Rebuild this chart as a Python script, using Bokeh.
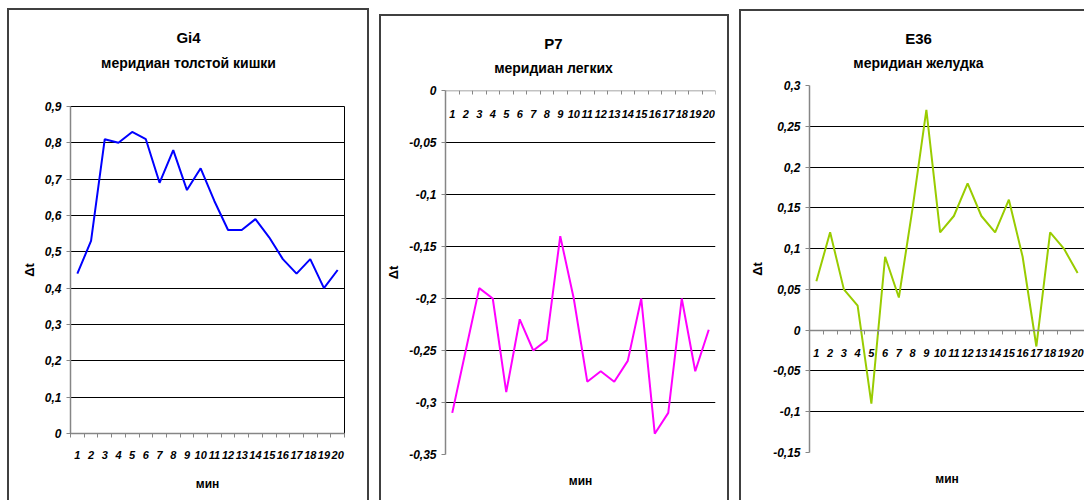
from bokeh.plotting import figure
from bokeh.models import Range1d, FixedTicker, CustomJSTickFormatter, Label
from bokeh.embed import file_html
from bokeh.resources import INLINE

# minutes of measurement
minutes = [1, 2, 3, 4, 5, 6, 7, 8, 9, 10, 11, 12, 13, 14, 15, 16, 17, 18, 19, 20]

# temperature difference per meridian point
gi4 = [0.44, 0.53, 0.81, 0.80, 0.83, 0.81, 0.69, 0.78, 0.67, 0.73,
       0.64, 0.56, 0.56, 0.59, 0.54, 0.48, 0.44, 0.48, 0.40, 0.45]
p7 = [-0.31, -0.25, -0.19, -0.20, -0.29, -0.22, -0.25, -0.24, -0.14, -0.20,
      -0.28, -0.27, -0.28, -0.26, -0.20, -0.33, -0.31, -0.20, -0.27, -0.23]
e36 = [0.06, 0.12, 0.05, 0.03, -0.09, 0.09, 0.04, 0.15, 0.27, 0.12,
       0.14, 0.18, 0.14, 0.12, 0.16, 0.09, -0.02, 0.12, 0.10, 0.07]

# value axis ticks of each chart
gi4_ticks = [0, 0.1, 0.2, 0.3, 0.4, 0.5, 0.6, 0.7, 0.8, 0.9]
p7_ticks = [-0.35, -0.3, -0.25, -0.2, -0.15, -0.1, -0.05, 0]
e36_ticks = [-0.15, -0.1, -0.05, 0, 0.05, 0.1, 0.15, 0.2, 0.25, 0.3]

codes = ["Gi4", "P7", "E36"]
subtitles = ["меридиан толстой кишки", "меридиан легких", "меридиан желудка"]
y_label = "\u0394t"
x_label = "мин"

FONT = "Liberation Sans"
AXIS_GRAY = "#868686"
BOX_LINE = "2px solid #404040"


def comma_formatter():
    return CustomJSTickFormatter(
        code="return String(Math.round(tick * 100) / 100).replace('.', ',');")


def make_panel(code, subtitle, values, color, y_ticks, box, frame,
               title_pos, xlabel_dy, axis_at_zero, outlined, open_right):
    # box: host element (left, top, width, height) on the page
    # frame: plot area (left, right, top, bottom) on the page
    L, T, W, H = box
    fl, fr, ft, fb = frame
    cx, cy = L + 2, T + 2  # canvas origin inside the border
    p = figure(width=W, height=H, output_backend="svg", toolbar_location=None,
               x_range=Range1d(0.5, 20.5), y_range=Range1d(y_ticks[0], y_ticks[-1]),
               min_border_left=fl - cx, min_border_right=cx + W - fr,
               min_border_top=ft - cy, min_border_bottom=cy + H - fb)
    css = {"position": "absolute", "left": f"{L}px", "top": f"{T}px",
           "border": BOX_LINE, "border-bottom": "none", "overflow": "hidden"}
    if open_right:
        css["border-right"] = "none"
    p.styles = css
    p.background_fill_color = "white"
    p.border_fill_color = "white"
    if outlined:
        p.outline_line_color = "black"
        p.outline_line_width = 1
    else:
        p.outline_line_color = None

    # category axis: labels at the minutes, tick marks between them
    xax = p.xaxis[0]
    xax.ticker = FixedTicker(ticks=minutes,
                             minor_ticks=[m - 0.5 for m in minutes] + [minutes[-1] + 0.5])
    xax.major_tick_line_color = None
    xax.major_tick_in = 0
    xax.major_tick_out = 0
    xax.minor_tick_line_color = AXIS_GRAY
    xax.minor_tick_in = 0
    xax.minor_tick_out = 4
    xax.axis_line_color = AXIS_GRAY
    xax.axis_line_width = 1.5
    xax.major_label_text_font = FONT
    xax.major_label_text_font_style = "bold italic"
    xax.major_label_text_font_size = "11px"
    xax.major_label_text_color = "black"
    xax.major_label_standoff = 15 if axis_at_zero else 13
    if axis_at_zero:
        xax.fixed_location = 0

    yax = p.yaxis[0]
    yax.ticker = FixedTicker(ticks=y_ticks, minor_ticks=[])
    yax.formatter = comma_formatter()
    yax.major_tick_in = 0
    yax.major_tick_out = 4
    yax.major_tick_line_color = AXIS_GRAY
    yax.minor_tick_line_color = None
    yax.axis_line_color = AXIS_GRAY
    yax.axis_line_width = 1.5
    yax.major_label_text_font = FONT
    yax.major_label_text_font_style = "bold italic"
    yax.major_label_text_font_size = "12px"
    yax.major_label_text_color = "black"
    yax.major_label_standoff = 5
    yax.axis_label = y_label
    yax.axis_label_text_font = FONT
    yax.axis_label_text_font_style = "bold"
    yax.axis_label_text_font_size = "13px"
    yax.axis_label_text_color = "black"
    yax.axis_label_standoff = 5

    p.xgrid.visible = False
    p.ygrid.grid_line_color = "black"
    p.ygrid.grid_line_width = 1

    p.line(minutes, values, line_color=color, line_width=2)

    # two-line chart title above the plot area (each label sits in its own
    # stacked side panel, the second one above the first)
    (tx, ty1, ty2) = title_pos
    p.add_layout(Label(x=tx - fl, y=ft - ty1, x_units="screen", y_units="screen",
                       text=code, text_align="center", text_baseline="middle",
                       text_font=FONT, text_font_style="bold", text_font_size="15px",
                       text_color="black"), "above")
    p.add_layout(Label(x=tx - fl, y=ft - ty2 - 16, x_units="screen", y_units="screen",
                       text=subtitle, text_align="center", text_baseline="middle",
                       text_font=FONT, text_font_style="bold", text_font_size="14px",
                       text_color="black"), "above")
    # x axis title under the plot area
    p.add_layout(Label(x=(fr - fl) / 2, y=xlabel_dy, x_units="screen", y_units="screen",
                       text=x_label, text_align="center", text_baseline="middle",
                       text_font=FONT, text_font_style="bold", text_font_size="12px",
                       text_color="black"), "below")
    return p


p1 = make_panel(codes[0], subtitles[0], gi4, "#0000FF", gi4_ticks,
                box=(7, 8, 362, 492), frame=(70, 344, 106, 433),
                title_pos=(188, 37, 63), xlabel_dy=-8,
                axis_at_zero=False, outlined=True, open_right=False)
p2 = make_panel(codes[1], subtitles[1], p7, "#FF00FF", p7_ticks,
                box=(379, 14, 350, 486), frame=(445, 715, 90, 454),
                title_pos=(553, 43, 68), xlabel_dy=-12,
                axis_at_zero=True, outlined=False, open_right=False)
p3 = make_panel(codes[2], subtitles[2], e36, "#99CC00", e36_ticks,
                box=(739, 9, 345, 491), frame=(809, 1084, 85, 452),
                title_pos=(918, 38, 63), xlabel_dy=-12,
                axis_at_zero=True, outlined=False, open_right=True)

open("out.html", "w").write(file_html([p1, p2, p3], INLINE))
